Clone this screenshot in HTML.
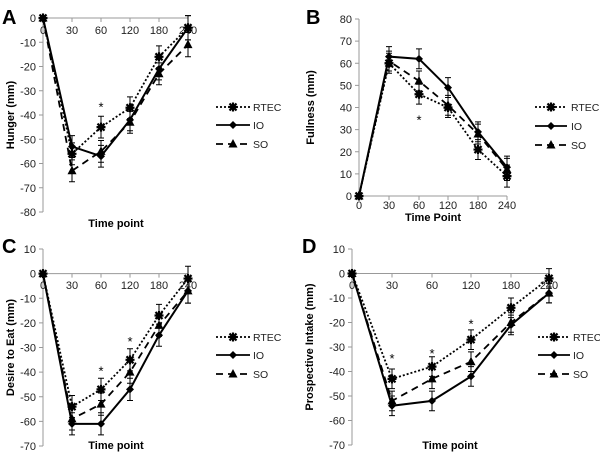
<!DOCTYPE html>
<html><head><meta charset="utf-8"><style>
html,body{margin:0;padding:0;background:#fff;}
svg{display:block;font-family:"Liberation Sans",Arial,sans-serif;}
</style></head><body>
<svg id="chart" width="600" height="460" viewBox="0 0 600 460"></svg>
<script>
const cats = ["0","30","60","120","180","240"];
const seriesNames = ["RTEC","IO","SO"];
const hungerRTEC = [0,-56,-45,-37,-16,-4];
const hungerIO = [0,-53,-57,-42,-21,-4];
const hungerSO = [0,-63,-55,-43,-23,-11];
const fullRTEC = [0,60,46,40,21,9];
const fullIO = [0,63,62,49,29,13];
const fullSO = [0,61,52,41,28,12];
const desireRTEC = [0,-54,-47,-35,-17,-2];
const desireIO = [0,-61,-61,-47,-25,-7];
const desireSO = [0,-59,-53,-40,-21,-7];
const prospRTEC = [0,-43,-38,-27,-14,-2];
const prospIO = [0,-54,-52,-42,-21,-8];
const prospSO = [0,-52,-43,-36,-20,-8];
const errA = [0,4.5,4.5,4.5,4.5,5];
const errB = [0,4.5,4.5,4.5,4.5,5];
const errC = [0,4.5,4.5,4.5,4.5,5];
const errD = [0,4,4,4,4,4];
const starsA = [[2,-36]];
const starsB = [[2,35]];
const starsC = [[2,-39],[3,-27]];
const starsD = [[1,-34],[2,-32],[3,-20]];
const ticksA = [0,-10,-20,-30,-40,-50,-60,-70,-80];
const ticksB = [80,70,60,50,40,30,20,10,0];
const ticksC = [10,0,-10,-20,-30,-40,-50,-60,-70];
const ticksD = [10,0,-10,-20,-30,-40,-50,-60,-70];

const NS="http://www.w3.org/2000/svg";
const svg=document.getElementById('chart');
function mk(tag,attrs,parent){const e=document.createElementNS(NS,tag);for(const k in attrs)e.setAttribute(k,attrs[k]);(parent||svg).appendChild(e);return e;}
function txt(s,attrs,parent){const e=mk('text',attrs,parent);e.textContent=s;return e;}

const panels=[
 {id:'a',letter:'A',lx:2,ly:24,ax:43,xs:[43,72,101,130,159,188],ymax:0,ymin:-80,ytop:18,ybot:212,ticks:ticksA,data:[hungerRTEC,hungerIO,hungerSO],err:errA,stars:starsA,ytitle:'Hunger (mm)',ytx:10,xtitle:'Time point',xty:227,xtx:116,xlabY:34,leg:[216,250,253],legY:[107,125,144]},
 {id:'b',letter:'B',lx:306,ly:24,ax:359,xs:[359,389,419,448,478,507],ymax:80,ymin:0,ytop:19,ybot:196,ticks:ticksB,data:[fullRTEC,fullIO,fullSO],err:errB,stars:starsB,ytitle:'Fullness (mm)',ytx:310,xtitle:'Time Point',xty:221,xtx:433,xlabY:209,leg:[535,567,571],legY:[107,126,145]},
 {id:'c',letter:'C',lx:2,ly:253,ax:43,xs:[43,72,101,130,159,188],ymax:10,ymin:-70,ytop:249,ybot:446,ticks:ticksC,data:[desireRTEC,desireIO,desireSO],err:errC,stars:starsC,ytitle:'Desire to Eat (mm)',ytx:10,xtitle:'Time point',xty:449,xtx:116,xlabY:289,leg:[216,250,253],legY:[337,355,374]},
 {id:'d',letter:'D',lx:302,ly:253,ax:352,xs:[352,392,432,471,511,549],ymax:10,ymin:-70,ytop:249,ybot:445,ticks:ticksD,data:[prospRTEC,prospIO,prospSO],err:errD,stars:starsD,ytitle:'Prospective Intake (mm)',ytx:309,xtitle:'Time point',xty:449,xtx:450,xlabY:289,leg:[538,570,573],legY:[337,355,374]}
];
const dashes=['2,2','','7,5'];

function marker(i,x,y,g){
  if(i===0){
    const p=mk('path',{d:`M${x-3.5},${y-3.5}L${x+3.5},${y+3.5}M${x+3.5},${y-3.5}L${x-3.5},${y+3.5}M${x-4.5},${y}L${x+4.5},${y}M${x},${y-4.5}L${x},${y+4.5}`,stroke:'#000','stroke-width':2.2,fill:'none'},g);
    
  }else if(i===1){
    const p=mk('path',{d:`M${x},${y-4}L${x+4},${y}L${x},${y+4}L${x-4},${y}Z`,fill:'#000'},g);
    
  }else{
    const p=mk('path',{d:`M${x},${y-5}L${x+4.5},${y+3.5}L${x-4.5},${y+3.5}Z`,fill:'#000'},g);
    
  }
}

panels.forEach(P=>{
  const g=mk('g',{});
  
  
  const ys=v=>P.ytop+(P.ymax-v)/(P.ymax-P.ymin)*(P.ybot-P.ytop);
  const l=txt(P.letter,{x:P.lx,y:P.ly,'font-size':20,'font-weight':'bold'},g);
  
  const ya=mk('line',{x1:P.ax,y1:P.ytop,x2:P.ax,y2:P.ybot,stroke:'#999','stroke-width':1},g);
  
  P.ticks.forEach(t=>{
    mk('line',{x1:P.ax-4,y1:ys(t),x2:P.ax,y2:ys(t),stroke:'#999'},g);
    const tl=txt(String(t),{x:P.ax-7,y:ys(t)+4,'font-size':11,'text-anchor':'end',fill:'#222'},g);
    
  });
  const y0=ys(0);
  const xa=mk('line',{x1:P.ax,y1:y0,x2:P.xs[5],y2:y0,stroke:'#999'},g);
  
  P.xs.forEach((x,i)=>{
    mk('line',{x1:x,y1:y0,x2:x,y2:y0+4,stroke:'#999'},g);
    const xl=txt(cats[i],{x:x,y:P.xlabY,'font-size':11,'text-anchor':'middle',fill:'#222'},g);
    
  });
  const yt=txt(P.ytitle,{x:0,y:0,'font-size':11,'font-weight':'bold','text-anchor':'middle',transform:`translate(${P.ytx+4},${(P.ytop+P.ybot)/2}) rotate(-90)`},g);
  
  const xt=txt(P.xtitle,{x:P.xtx,y:P.xty,'font-size':11,'font-weight':'bold','text-anchor':'middle'},g);
  
  P.data.forEach((d,si)=>{
    const pts=d.map((v,i)=>P.xs[i]+','+ys(v)).join(' ');
    const pl=mk('polyline',{points:pts,fill:'none',stroke:'#000','stroke-width':si===1?2:1.8,'stroke-dasharray':dashes[si]},g);
    
    d.forEach((v,i)=>{
      const e=P.err[i];
      if(e>0){
        const x=P.xs[i];
        const eb=mk('path',{d:`M${x},${ys(v+e)}L${x},${ys(v-e)}M${x-3},${ys(v+e)}L${x+3},${ys(v+e)}M${x-3},${ys(v-e)}L${x+3},${ys(v-e)}`,stroke:'#000','stroke-width':1,fill:'none'},g);
        
      }
      marker(si,P.xs[i],ys(v),g);
    });
  });
  P.stars.forEach(s=>{
    const st=txt('*',{x:P.xs[s[0]],y:ys(s[1])+6,'font-size':13,'text-anchor':'middle'},g);
    
  });
  seriesNames.forEach((n,si)=>{
    const lg=mk('g',{},g);
    
    
    const y=P.legY[si];
    mk('line',{x1:P.leg[0],y1:y,x2:P.leg[1],y2:y,stroke:'#000','stroke-width':1.8,'stroke-dasharray':dashes[si]},lg);
    marker(si,(P.leg[0]+P.leg[1])/2,y,lg);
    txt(n,{x:P.leg[2],y:y+4,'font-size':10.5,fill:'#222'},lg);
  });
});
</script>
</body></html>
